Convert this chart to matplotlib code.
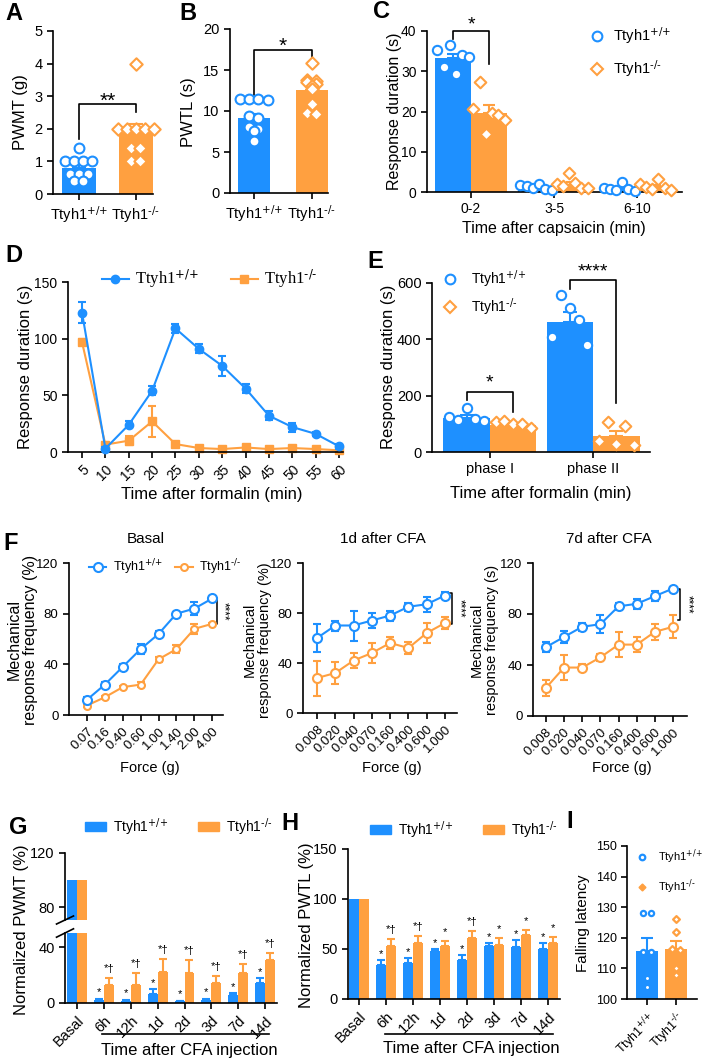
import numpy as np
import matplotlib
matplotlib.use("Agg")
import matplotlib.pyplot as plt
from matplotlib.lines import Line2D
from matplotlib.patches import Patch
from matplotlib.transforms import blended_transform_factory

BLUE = "#1E90FF"
ORANGE = "#FFA040"
WT = r"Ttyh1$^{\text{+/+}}$"
KO = r"Ttyh1$^{\text{-/-}}$"

# ---- A: PWMT
A_mean = [0.80, 1.88]
A_sem = [0.13, 0.27]
A_wt = [1.4, 1.0, 1.0, 1.0, 1.0, 0.6, 0.6, 0.6, 0.4, 0.4]
A_ko = [4.0, 2.0, 2.0, 2.0, 2.0, 2.0, 1.4, 1.4, 1.0, 1.0]

# ---- B: PWTL
B_mean = [9.1, 12.5]
B_sem = [0.5, 0.6]
B_wt = [11.5, 11.5, 11.5, 11.4, 9.4, 9.2, 8.0, 7.8, 7.6, 6.3]
B_ko = [15.8, 13.8, 13.6, 13.5, 13.3, 13.0, 12.7, 10.8, 9.7, 9.6]

# ---- C: capsaicin
C_groups = ["0-2", "3-5", "6-10"]
C_wt_mean = [33.2, 1.0, 0.8]
C_wt_sem = [1.1, 0.3, 0.4]
C_ko_mean = [19.7, 1.8, 1.3]
C_ko_sem = [1.8, 0.6, 0.5]
C_wt_pts = [[35.2, 31.0, 36.6, 29.3, 34.0, 33.5],
            [1.8, 1.6, 1.0, 2.0, 0.7, 0.4],
            [1.0, 0.8, 0.4, 2.6, 0.7, 0.2]]
C_ko_pts = [[20.6, 27.4, 14.4, 19.6, 19.2, 17.9],
            [2.1, 1.5, 4.7, 2.3, 1.1, 1.1],
            [2.1, 1.3, 0.7, 3.3, 1.1, 0.4]]

# ---- D: formalin time course
D_time = ["5", "10", "15", "20", "25", "30", "35", "40", "45", "50", "55", "60"]
D_wt = [123, 3, 24, 54, 109, 91, 76, 56, 32, 22, 16, 5]
D_wt_err = [9, 1, 3, 4, 4, 4, 9, 4, 4, 4, 2, 2]
D_ko = [97, 6.5, 10, 27, 7, 3.5, 2.6, 4, 2.6, 3.5, 2.6, 1.5]
D_ko_err = [3, 2, 4, 14, 2, 1, 1, 1, 1, 1, 1, 1]

# ---- E: formalin phases
E_groups = ["phase I", "phase II"]
E_wt_mean = [122, 462]
E_wt_sem = [10, 35]
E_ko_mean = [97, 58]
E_ko_sem = [4, 17]
E_wt_pts = [[124, 112, 157, 118, 109], [407, 556, 511, 467, 379]]
E_ko_pts = [[106, 110, 101, 101, 86], [38, 106, 30, 92, 24]]

# ---- F: von Frey
F_force_basal = ["0.07", "0.16", "0.40", "0.60", "1.00", "1.40", "2.00", "4.00"]
F_force_cfa = ["0.008", "0.020", "0.040", "0.070", "0.160", "0.400", "0.600", "1.000"]
F_basal_wt = [12, 24, 38, 52, 64, 80, 84, 92]
F_basal_wt_err = [2, 2, 2, 4, 2, 1, 5, 2]
F_basal_ko = [7.5, 14, 22, 24, 44, 52, 68, 72]
F_basal_ko_err = [1, 1, 1, 2, 2, 3, 4, 1]
F_1d_wt = [60, 70, 70, 74, 78, 85, 87, 94]
F_1d_wt_err = [11, 4, 12, 6, 4, 3, 6, 3]
F_1d_ko = [28, 32, 42, 48, 56, 52, 64, 72]
F_1d_ko_err = [14, 9, 6, 8, 5, 5, 8, 5]
F_7d_wt = [54, 62, 70, 72, 86, 88, 94, 100]
F_7d_wt_err = [4, 5, 3, 7, 3, 4, 4, 1]
F_7d_ko = [22, 38, 38, 46, 56, 56, 66, 70]
F_7d_ko_err = [6, 10, 3, 3, 10, 6, 6, 9]

# ---- G / H: CFA time course
CFA_days = ["Basal", "6h", "12h", "1d", "2d", "3d", "7d", "14d"]
G_wt = [100, 1.9, 1.4, 6.7, 1.2, 1.9, 5.5, 14.7]
G_wt_sem = [0, 1.1, 1.0, 3.2, 0.5, 1.2, 1.5, 3.1]
G_ko = [100, 13.2, 13.2, 22.4, 21.9, 14.7, 21.9, 30.8]
G_ko_sem = [0, 4.8, 8.0, 9.1, 8.9, 4.8, 5.8, 4.8]
H_wt = [100, 34.3, 36.0, 47.7, 38.7, 52.7, 52.0, 50.0]
H_wt_sem = [0, 4.7, 5.0, 2.3, 5.3, 3.3, 7.0, 6.0]
H_ko = [100, 52.7, 56.0, 52.7, 61.0, 54.3, 63.7, 56.0]
H_ko_sem = [0, 7.3, 6.7, 5.0, 7.0, 6.7, 5.0, 6.0]
G_ko_sig = ["*†"] * 7
H_ko_sig = ["*†", "*†", "*", "*†", "*", "*", "*"]

# ---- I: rotarod
I_mean = [115.8, 116.2]
I_sem = [4.2, 2.8]
I_wt = [128, 128, 115.5, 115.5, 106.8, 104]
I_ko = [126, 122, 116.3, 116, 110, 108]

W, H = 705, 1062
plt.rcParams["font.family"] = "Liberation Sans"
plt.rcParams["mathtext.default"] = "regular"
plt.rcParams["axes.linewidth"] = 1.2
plt.rcParams["xtick.major.width"] = 1.2
plt.rcParams["ytick.major.width"] = 1.2
plt.rcParams["xtick.major.size"] = 4
plt.rcParams["ytick.major.size"] = 4

fig = plt.figure(figsize=(W / 100, H / 100), dpi=100)


def add_ax(l, t, r, b):
    ax = fig.add_axes([l / W, 1 - b / H, (r - l) / W, (b - t) / H])
    ax.spines["top"].set_visible(False)
    ax.spines["right"].set_visible(False)
    return ax


def fy(y):
    return 1 - y / H


def ftext(x, y, s, **kw):
    kw.setdefault("ha", "center")
    kw.setdefault("va", "center")
    fig.text(x / W, fy(y), s, **kw)


def spread(vals, tol, step):
    vals = np.asarray(vals, float)
    offs = np.zeros(len(vals))
    rows = []
    for i in np.argsort(-vals, kind="stable"):
        if rows and abs(vals[rows[-1][0]] - vals[i]) <= tol:
            rows[-1].append(i)
        else:
            rows.append([i])
    for r in rows:
        r = sorted(r)
        offs[r] = (np.arange(len(r)) - (len(r) - 1) / 2) * step
    return offs


def bar_dots(ax, x, mean, sem, pts, color, marker, width, tol, step,
             s=50, lw=1.5, cap=5):
    ax.bar(x, mean, width, color=color, zorder=1)
    ax.errorbar(x, mean, yerr=[[0], [sem]], color=color, capsize=cap,
                elinewidth=1.5, capthick=1.5, zorder=2)
    xs = x + spread(pts, tol, step)
    ax.scatter(xs, pts, s=s, marker=marker, facecolor="white",
               edgecolor=color, linewidths=lw, zorder=3, clip_on=False)


def bracket(ax, x1, x2, y1, y2, ytop, text, ty, fs=13):
    ax.plot([x1, x1, x2, x2], [y1, ytop, ytop, y2], color="black",
            lw=1.2, clip_on=False)
    ax.text((x1 + x2) / 2, ty, text, ha="center", va="center", fontsize=fs)


# ================= A =================
ax = add_ax(53, 31, 153, 194)
bar_dots(ax, 0, A_mean[0], A_sem[0], A_wt, BLUE, "o", 0.6, 0.05, 0.16)
bar_dots(ax, 1, A_mean[1], A_sem[1], A_ko, ORANGE, "D", 0.6, 0.05, 0.16, s=40)
ax.set_xlim(-0.45, 1.3)
ax.set_ylim(0, 5)
ax.set_xticks([0, 1], [WT, KO])
ax.set_yticks(range(6))
ax.tick_params(labelsize=10.5)
bracket(ax, 0, 1, 1.68, 2.53, 2.75, "**", 2.85, fs=15)
ftext(21, 112, "PWMT (g)", rotation=90, fontsize=12)
ftext(14, 14, "A", fontsize=17, fontweight="bold")

# ================= B =================
ax = add_ax(230, 29, 328, 193)
bar_dots(ax, 0, B_mean[0], B_sem[0], B_wt, BLUE, "o", 0.55, 0.25, 0.16)
bar_dots(ax, 1, B_mean[1], B_sem[1], B_ko, ORANGE, "D", 0.55, 0.25, 0.16, s=40)
ax.set_xlim(-0.41, 1.28)
ax.set_ylim(0, 20)
ax.set_xticks([0, 1], [WT, KO])
ax.set_yticks([0, 5, 10, 15, 20])
ax.tick_params(labelsize=10.5)
bracket(ax, 0, 1, 12.0, 16.3, 17.4, "*", 17.9, fs=15)
ftext(188, 112, "PWTL (s)", rotation=90, fontsize=12)
ftext(188, 14, "B", fontsize=17, fontweight="bold")

# ================= C =================
ax = add_ax(427, 31, 682, 192)
gx = np.arange(len(C_groups))
for i in range(len(C_groups)):
    bar_dots(ax, gx[i] - 0.217, C_wt_mean[i], C_wt_sem[i], C_wt_pts[i], BLUE,
             "o", 0.434, 100, 0.075, s=45, cap=4)
    bar_dots(ax, gx[i] + 0.217, C_ko_mean[i], C_ko_sem[i], C_ko_pts[i], ORANGE,
             "D", 0.434, 100, 0.075, s=35, cap=4)
ax.set_xlim(-0.53, 2.54)
ax.set_ylim(0, 40)
ax.set_xticks(gx, C_groups)
ax.set_yticks([0, 10, 20, 30, 40])
ax.tick_params(labelsize=10)
bracket(ax, -0.217, 0.217, 37.9, 31.7, 40, "*", 41.6, fs=14)
ax.legend(handles=[
    Line2D([], [], ls="none", marker="o", ms=7, mfc="white", mec=BLUE, mew=1.5, label=WT),
    Line2D([], [], ls="none", marker="D", ms=6, mfc="white", mec=ORANGE, mew=1.5, label=KO)],
    loc="center left", bbox_to_anchor=(590 / W, fy(52)), bbox_transform=fig.transFigure,
    frameon=False, fontsize=10.5, handlelength=1, handletextpad=0.6,
    labelspacing=0.85, borderpad=0, borderaxespad=0)
ftext(394, 111, "Response duration (s)", rotation=90, fontsize=11.5)
ftext(554, 229, "Time after capsaicin (min)", fontsize=11.5)
ftext(381, 12, "C", fontsize=17, fontweight="bold")

# ================= D =================
ax = add_ax(68, 282, 343, 452)
tx = np.arange(len(D_time))
ax.errorbar(tx, D_wt, yerr=D_wt_err, color=BLUE, marker="o", ms=6, lw=1.5,
            capsize=3, capthick=1.5, zorder=3, clip_on=False)
ax.errorbar(tx, D_ko, yerr=D_ko_err, color=ORANGE, marker="s", ms=6, lw=1.5,
            capsize=3, capthick=1.5, zorder=2, clip_on=False)
ax.set_xlim(-0.6, 11.17)
ax.set_ylim(0, 150)
ax.set_xticks(tx, D_time, rotation=45, ha="right", rotation_mode="anchor")
ax.set_yticks([0, 50, 100, 150])
ax.tick_params(labelsize=10)
ax.legend(handles=[
    Line2D([], [], color=BLUE, marker="o", ms=6, lw=1.5, label=WT),
    Line2D([], [], color=ORANGE, marker="s", ms=6, lw=1.5, label=KO)],
    loc="center left", bbox_to_anchor=(102 / W, fy(279)), bbox_transform=fig.transFigure,
    frameon=False, ncol=2, prop={"family": "Liberation Serif", "size": 12},
    handlelength=1.6, handletextpad=0.4, columnspacing=1.9, borderpad=0,
    borderaxespad=0)
ftext(26, 367, "Response duration (s)", rotation=90, fontsize=12)
ftext(212, 495, "Time after formalin (min)", fontsize=12)
ftext(14, 255, "D", fontsize=17, fontweight="bold")

# ================= E =================
ax = add_ax(432, 283, 650, 452)
ex = np.arange(len(E_groups))
for i in range(len(E_groups)):
    bar_dots(ax, ex[i] - 0.225, E_wt_mean[i], E_wt_sem[i], E_wt_pts[i], BLUE,
             "o", 0.45, 1000, 0.085, s=45, cap=5)
    bar_dots(ax, ex[i] + 0.225, E_ko_mean[i], E_ko_sem[i], E_ko_pts[i], ORANGE,
             "D", 0.45, 1000, 0.085, s=35, cap=5)
ax.set_xlim(-0.56, 1.55)
ax.set_ylim(0, 600)
ax.set_xticks(ex, E_groups)
ax.set_yticks([0, 200, 400, 600])
ax.tick_params(labelsize=10.5)
bracket(ax, -0.225, 0.225, 183, 142, 213, "*", 245, fs=14)
bracket(ax, 0.775, 1.225, 580, 175, 612, "****", 640, fs=14)
ax.legend(handles=[
    Line2D([], [], ls="none", marker="o", ms=7, mfc="white", mec=BLUE, mew=1.5, label=WT),
    Line2D([], [], ls="none", marker="D", ms=6, mfc="white", mec=ORANGE, mew=1.5, label=KO)],
    loc="center left", bbox_to_anchor=(443 / W, fy(293)), bbox_transform=fig.transFigure,
    frameon=False, fontsize=10, handlelength=1, handletextpad=1.0,
    labelspacing=0.45, borderpad=0, borderaxespad=0)
ftext(388, 367, "Response duration (s)", rotation=90, fontsize=12)
ftext(541, 493, "Time after formalin (min)", fontsize=12)
ftext(375, 262, "E", fontsize=17, fontweight="bold")

# ================= F =================
F_panels = [
    ((69, 563, 223, 715), (-1.0, 7.6), F_force_basal, F_basal_wt, F_basal_wt_err,
     F_basal_ko, F_basal_ko_err, "Basal", 146, "Mechanical\nresponse frequency (%)", 22, 11.5,
     (92, 72), 0.28, 0.6, 150),
    ((303, 563, 457, 713), (-0.77, 7.66), F_force_cfa, F_1d_wt, F_1d_wt_err,
     F_1d_ko, F_1d_ko_err, "1d after CFA", 383, "Mechanical\nresponse frequency (%)", 257, 10.5,
     (96, 71), 0.38, 0.8, 392),
    ((533, 563, 687, 716), (-0.71, 7.77), F_force_cfa, F_7d_wt, F_7d_wt_err,
     F_7d_ko, F_7d_ko_err, "7d after CFA", 609, "Mechanical\nresponse frequency (s)", 484, 10.5,
     (100, 75), 0.38, 0.8, 622),
]
for k, (box, xl, ticks, wt, wte, ko, koe, title, tx_, ylab, ylx, yfs,
        sig_y, bx, sx, xlx) in enumerate(F_panels):
    ax = add_ax(*box)
    fx = np.arange(len(ticks))
    ax.errorbar(fx, wt, yerr=wte, color=BLUE, marker="o", ms=6.5, mfc="white",
                mew=1.5, lw=1.5, capsize=3, capthick=1.5, zorder=3, clip_on=False)
    ax.errorbar(fx, ko, yerr=koe, color=ORANGE, marker="o",
                ms=5 if k == 0 else 6.5, mfc="white", mew=1.5, lw=1.5,
                capsize=3, capthick=1.5, zorder=2, clip_on=False)
    ax.set_xlim(*xl)
    ax.set_ylim(0, 120)
    ax.set_xticks(fx, ticks, rotation=45, ha="right", rotation_mode="anchor")
    ax.set_yticks([0, 40, 80, 120])
    ax.tick_params(labelsize=9.5)
    xb = fx[-1] + bx
    ax.plot([xb - 0.12, xb, xb, xb - 0.12], [sig_y[0], sig_y[0], sig_y[1], sig_y[1]],
            color="black", lw=1.1, clip_on=False)
    ax.text(fx[-1] + sx, np.mean(sig_y), "****", rotation=270, ha="center",
            va="center", fontsize=8.5)
    ftext(tx_, 539, title, fontsize=11)
    ftext(ylx, 640, ylab, rotation=90, fontsize=yfs, linespacing=1.1)
    ftext(xlx, 768, "Force (g)", fontsize=10.5)
    if k == 0:
        ax.legend(handles=[
            Line2D([], [], color=BLUE, marker="o", ms=6.5, mfc="white", mew=1.5, lw=1.5, label=WT),
            Line2D([], [], color=ORANGE, marker="o", ms=5, mfc="white", mew=1.5, lw=1.5, label=KO)],
            loc="center left", bbox_to_anchor=(89 / W, fy(567)),
            bbox_transform=fig.transFigure, frameon=False, ncol=2, fontsize=9,
            handlelength=1.4, handletextpad=0.5, columnspacing=1.0, borderpad=0,
            borderaxespad=0)
ftext(11, 543, "F", fontsize=17, fontweight="bold")


# ================= G / H =================
def cfa_bars(ax, wt, wte, ko, koe, width, show_sig=None):
    cx = np.arange(len(CFA_days))
    ax.bar(cx - width / 2, wt, width, color=BLUE, zorder=1)
    ax.bar(cx + width / 2, ko, width, color=ORANGE, zorder=1)
    ax.errorbar(cx[1:] - width / 2, wt[1:], yerr=[np.zeros(len(wt) - 1), wte[1:]],
                fmt="none", ecolor=BLUE, capsize=3, elinewidth=1.5, capthick=1.5)
    ax.errorbar(cx[1:] + width / 2, ko[1:], yerr=[np.zeros(len(ko) - 1), koe[1:]],
                fmt="none", ecolor=ORANGE, capsize=3, elinewidth=1.5, capthick=1.5)
    if show_sig is not None:
        for i in range(1, len(CFA_days)):
            ax.annotate("*", (cx[i] - width / 2, wt[i] + wte[i]), xytext=(0, 1),
                        textcoords="offset points", ha="center", va="bottom", fontsize=8)
            ax.annotate(show_sig[i - 1], (cx[i] + width / 2, ko[i] + koe[i]), xytext=(0, 3),
                        textcoords="offset points", ha="center", va="bottom", fontsize=8)
    return cx


def cfa_legend(ax, x, y):
    ax.legend(handles=[Patch(color=BLUE, label=WT), Patch(color=ORANGE, label=KO)],
              loc="center left", bbox_to_anchor=(x / W, fy(y)),
              bbox_transform=fig.transFigure, frameon=False, ncol=2, fontsize=10,
              handlelength=1.5, handleheight=0.6, handletextpad=0.55,
              columnspacing=2.1, borderpad=0, borderaxespad=0)


def cfa_underline(ax, x1, x2, y, label_y, label_x):
    tr = blended_transform_factory(ax.transData, fig.transFigure)
    ax.plot([x1, x2], [fy(y), fy(y)], color="black", lw=1.2, transform=tr, clip_on=False)
    ftext(label_x, label_y, "Time after CFA injection", fontsize=12)


gw = 0.37
ax_top = add_ax(65, 853, 277, 920)
ax_bot = add_ax(65, 933, 277, 1003)
cfa_bars(ax_top, G_wt, G_wt_sem, G_ko, G_ko_sem, gw)
cx = cfa_bars(ax_bot, G_wt, G_wt_sem, G_ko, G_ko_sem, gw, show_sig=G_ko_sig)
for a in (ax_top, ax_bot):
    a.set_xlim(-0.46, 7.45)
    a.tick_params(labelsize=10.5)
ax_top.set_ylim(70.4, 120)
ax_top.set_yticks([80, 120])
ax_top.spines["bottom"].set_visible(False)
ax_top.set_xticks([])
ax_bot.set_ylim(0, 50.3)
ax_bot.set_yticks([0, 40])
ax_bot.set_xticks(cx, CFA_days, rotation=45, ha="right", rotation_mode="anchor")
kw = dict(color="black", lw=1.2, clip_on=False)
ax_top.plot([-0.04, 0.04], [-0.06, 0.06], transform=ax_top.transAxes, **kw)
ax_bot.plot([-0.04, 0.04], [0.94, 1.06], transform=ax_bot.transAxes, **kw)
cfa_underline(ax_bot, 0.93, 7.15, 1034, 1051, 189)
cfa_legend(ax_top, 85, 827)
ftext(22, 930, "Normalized PWMT (%)", rotation=90, fontsize=12)
ftext(18, 828, "G", fontsize=17, fontweight="bold")

ax = add_ax(348, 849, 560, 999)
cx = cfa_bars(ax, H_wt, H_wt_sem, H_ko, H_ko_sem, 0.36, show_sig=H_ko_sig)
ax.set_xlim(-0.41, 7.44)
ax.set_ylim(0, 150)
ax.set_yticks([0, 50, 100, 150])
ax.set_xticks(cx, CFA_days, rotation=45, ha="right", rotation_mode="anchor")
ax.tick_params(labelsize=10.5)
cfa_underline(ax, 0.97, 7.18, 1034, 1048, 471)
cfa_legend(ax, 370, 830)
ftext(307, 925, "Normalized PWTL (%)", rotation=90, fontsize=12)
ftext(290, 823, "H", fontsize=17, fontweight="bold")

# ================= I =================
ax = add_ax(627, 846, 697, 999)
bar_dots(ax, 0, I_mean[0], I_sem[0], I_wt, BLUE, "o", 0.78, 0.5, 0.3, s=14, lw=1.6, cap=4)
bar_dots(ax, 1, I_mean[1], I_sem[1], I_ko, ORANGE, "D", 0.78, 0.5, 0.3, s=12, lw=1.6, cap=4)
ax.set_xlim(-0.69, 1.72)
ax.set_ylim(100, 150)
ax.set_yticks(range(100, 151, 10))
ax.set_xticks([0, 1], [WT, KO], rotation=45, ha="right", rotation_mode="anchor")
ax.tick_params(labelsize=9)
ax.legend(handles=[
    Line2D([], [], ls="none", marker="o", ms=4, mfc="white", mec=BLUE, mew=1.6, label=WT),
    Line2D([], [], ls="none", marker="D", ms=3.5, mfc=ORANGE, mec=ORANGE, label=KO)],
    loc="center left", bbox_to_anchor=(636 / W, fy(872)), bbox_transform=fig.transFigure,
    frameon=False, fontsize=8, handlelength=1, handletextpad=1.0,
    labelspacing=1.0, borderpad=0, borderaxespad=0)
ftext(583, 923, "Falling latency", rotation=90, fontsize=11)
ftext(570, 822, "I", fontsize=17, fontweight="bold")

fig.savefig("out.png", dpi=100)
